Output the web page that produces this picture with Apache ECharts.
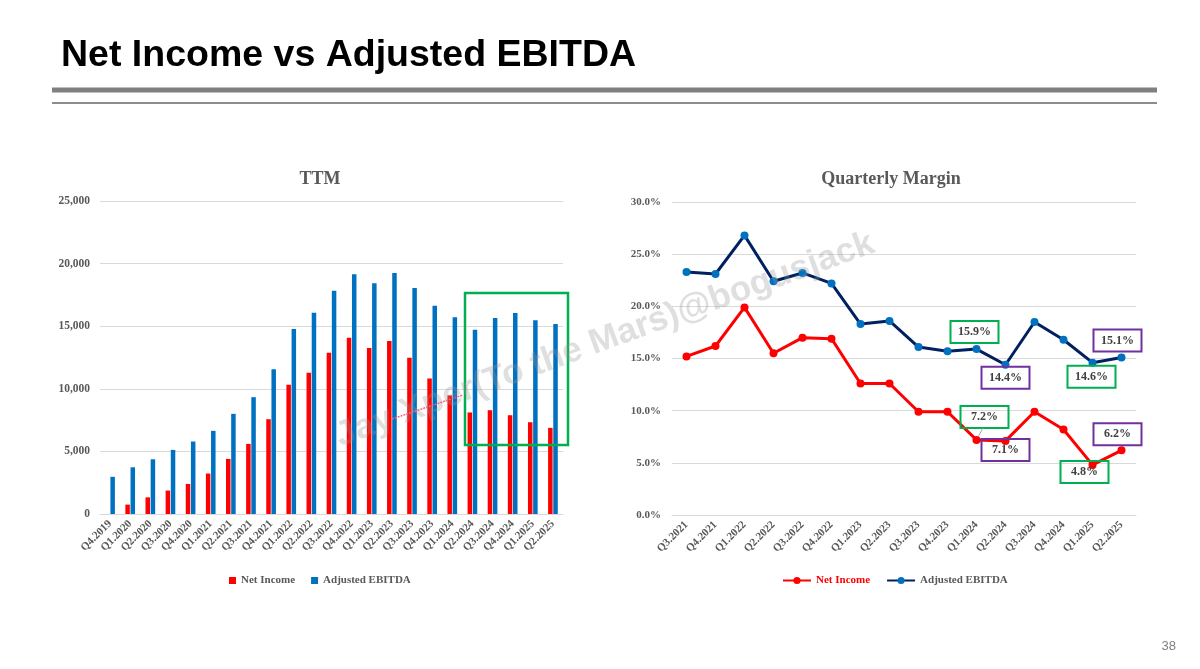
<!DOCTYPE html>
<html>
<head>
<meta charset="utf-8">
<script src="https://cdn.jsdelivr.net/npm/echarts@6/dist/echarts.min.js"></script>
<style>
html,body{margin:0;padding:0;background:#ffffff;}
#c{width:1200px;height:669px;}
</style>
</head>
<body>
<div id="c"></div>
<script>
// ---- Data ----
const ttmCategories = ['Q4.2019','Q1.2020','Q2.2020','Q3.2020','Q4.2020','Q1.2021','Q2.2021','Q3.2021','Q4.2021','Q1.2022','Q2.2022','Q3.2022','Q4.2022','Q1.2023','Q2.2023','Q3.2023','Q4.2023','Q1.2024','Q2.2024','Q3.2024','Q4.2024','Q1.2025','Q2.2025'];
const ttmNetIncome = [null, 750, 1330, 1870, 2400, 3230, 4400, 5600, 7570, 10320, 11280, 12880, 14080, 13250, 13810, 12480, 10830, 9470, 8110, 8290, 7890, 7330, 6880];
const ttmAdjEbitda = [2970, 3730, 4370, 5120, 5790, 6640, 8000, 9330, 11570, 14780, 16080, 17840, 19150, 18430, 19250, 18050, 16640, 15710, 14720, 15650, 16050, 15470, 15170];

const qCategories = ['Q3.2021','Q4.2021','Q1.2022','Q2.2022','Q3.2022','Q4.2022','Q1.2023','Q2.2023','Q3.2023','Q4.2023','Q1.2024','Q2.2024','Q3.2024','Q4.2024','Q1.2025','Q2.2025'];
const qNetIncomeMargin = [15.2, 16.2, 19.9, 15.5, 17.0, 16.9, 12.6, 12.6, 9.9, 9.9, 7.2, 7.1, 9.9, 8.2, 4.8, 6.2];
const qAdjEbitdaMargin = [23.3, 23.1, 26.8, 22.4, 23.2, 22.2, 18.3, 18.6, 16.1, 15.7, 15.9, 14.4, 18.5, 16.8, 14.6, 15.1];

const seriesLabels = {NI_TTM:'Net Income', EBITDA_TTM:'Adjusted EBITDA', NI_Q:'Net Income', EBITDA_Q:'Adjusted EBITDA'};

// callout boxes (which point, box colour, offset of box from point)
const GREEN = '#00B050', PURPLE = '#7030A0';
const ebitdaCallouts = {10:{color:GREEN, offset:[-2,-17]}, 11:{color:PURPLE, offset:[0,13]}, 14:{color:GREEN, offset:[-1,14]}, 15:{color:PURPLE, offset:[-4,-17]}};
const niCallouts = {10:{color:GREEN, offset:[8,-23]}, 11:{color:PURPLE, offset:[0,9]}, 14:{color:GREEN, offset:[-8,7]}, 15:{color:PURPLE, offset:[-4,-16]}};

const SERIF = "'Liberation Serif', 'Times New Roman', serif";
const AXIS_TXT = '#595959';

function withCallouts(values, callouts){
  return values.map((v,i)=>{
    const c = callouts[i];
    if(!c) return v;
    return {value:v, label:{
      show:true, position:'inside', offset:c.offset,
      formatter:(p)=>Number(p.value).toFixed(1)+'%',
      color:'#404040', fontFamily:SERIF, fontWeight:'bold', fontSize:12,
      borderColor:c.color, borderWidth:2, width:48, height:22, lineHeight:22,
      align:'center', verticalAlign:'middle', padding:0
    }};
  });
}

const chart = echarts.init(document.getElementById('c'), null, {renderer:'canvas'});

const catAxisLabel = {interval:0, rotate:45, fontFamily:SERIF, fontWeight:'bold', fontSize:11, color:AXIS_TXT, margin:8};

chart.setOption({
  animation:false,
  backgroundColor:'#ffffff',
  title:[
    {text:'TTM', left:315, top:165, textAlign:'center', textStyle:{fontFamily:SERIF, fontWeight:'bold', fontSize:18, color:AXIS_TXT}},
    {text:'Quarterly Margin', left:886, top:165, textAlign:'center', textStyle:{fontFamily:SERIF, fontWeight:'bold', fontSize:18, color:AXIS_TXT}}
  ],
  legend:[
    {data:['NI_TTM','EBITDA_TTM'], left:224, top:570, itemWidth:7, itemHeight:7, itemGap:16, icon:'rect',
     formatter:(n)=>seriesLabels[n], textStyle:{fontFamily:SERIF, fontWeight:'bold', fontSize:11, color:AXIS_TXT}},
    {data:[{name:'NI_Q', textStyle:{color:'#FF0000'}}, {name:'EBITDA_Q'}], left:777, top:570, itemWidth:28, itemHeight:9, itemGap:16,
     formatter:(n)=>seriesLabels[n], textStyle:{fontFamily:SERIF, fontWeight:'bold', fontSize:11, color:AXIS_TXT}}
  ],
  grid:[
    {left:100, right:637, top:201, bottom:155},
    {left:672, right:64, top:202, bottom:154}
  ],
  xAxis:[
    {type:'category', gridIndex:0, data:ttmCategories, axisTick:{show:false}, axisLine:{lineStyle:{color:'#d9d9d9', width:1}}, axisLabel:catAxisLabel},
    {type:'category', gridIndex:1, data:qCategories, axisTick:{show:false}, axisLine:{lineStyle:{color:'#d9d9d9', width:1}}, axisLabel:catAxisLabel}
  ],
  yAxis:[
    {type:'value', gridIndex:0, min:0, max:25000, interval:5000, axisLine:{show:false}, axisTick:{show:false},
     splitLine:{lineStyle:{color:'#d9d9d9'}},
     axisLabel:{formatter:(v)=>v.toLocaleString('en-US'), fontFamily:SERIF, fontWeight:'bold', fontSize:11.5, color:AXIS_TXT, margin:10}},
    {type:'value', gridIndex:1, min:0, max:30, interval:5, axisLine:{show:false}, axisTick:{show:false},
     splitLine:{lineStyle:{color:'#d9d9d9'}},
     axisLabel:{formatter:(v)=>v.toFixed(1)+'%', fontFamily:SERIF, fontWeight:'bold', fontSize:11, color:AXIS_TXT, margin:11}}
  ],
  series:[
    {name:'NI_TTM', type:'bar', xAxisIndex:0, yAxisIndex:0, data:ttmNetIncome, barWidth:4.5, barGap:'15%', itemStyle:{color:'#FF0000'}},
    {name:'EBITDA_TTM', type:'bar', xAxisIndex:0, yAxisIndex:0, data:ttmAdjEbitda, barWidth:4.5, barGap:'15%', itemStyle:{color:'#0070C0'}},
    {name:'NI_Q', type:'line', xAxisIndex:1, yAxisIndex:1, data:withCallouts(qNetIncomeMargin, niCallouts), symbol:'circle', symbolSize:8,
     lineStyle:{color:'#FF0000', width:3}, itemStyle:{color:'#FF0000'}, z:3},
    {name:'EBITDA_Q', type:'line', xAxisIndex:1, yAxisIndex:1, data:withCallouts(qAdjEbitdaMargin, ebitdaCallouts), symbol:'circle', symbolSize:8,
     lineStyle:{color:'#002060', width:3}, itemStyle:{color:'#0070C0'}, z:3}
  ],
  graphic:[
    {type:'text', x:61, y:56, style:{text:'Net Income vs Adjusted EBITDA', font:"bold 37.5px 'Liberation Sans', Arial, sans-serif", fill:'#000000', textVerticalAlign:'middle', textAlign:'left'}},
    {type:'rect', shape:{x:52, y:87.5, width:1105, height:5}, style:{fill:'#808080'}},
    {type:'rect', shape:{x:52, y:102, width:1105, height:2}, style:{fill:'#8c8c8c'}},
    {type:'rect', shape:{x:465, y:293, width:103, height:152}, style:{fill:'none', stroke:GREEN, lineWidth:2.5}, z:50},
    {type:'line', shape:{x1:392, y1:419, x2:463, y2:395}, style:{stroke:'#ff5f7e', lineWidth:1.5, lineDash:[2,1]}, z:50},
    {type:'line', shape:{x1:983, y1:428, x2:978, y2:437}, style:{stroke:'#a6a6a6', lineWidth:1}, z:50},
    {type:'text', x:605, y:340, rotation:20*Math.PI/180, style:{text:'Jay Xper(To the Mars)@bogusjack', font:"bold 35px 'Liberation Sans', Arial, sans-serif", fill:'rgba(150,150,150,0.30)', textAlign:'center', textVerticalAlign:'middle'}, z:100},
    {type:'text', x:1176, y:646, style:{text:'38', font:"13px 'Liberation Sans', Arial, sans-serif", fill:'#7f7f7f', textAlign:'right', textVerticalAlign:'middle'}}
  ]
});
</script>
</body>
</html>
